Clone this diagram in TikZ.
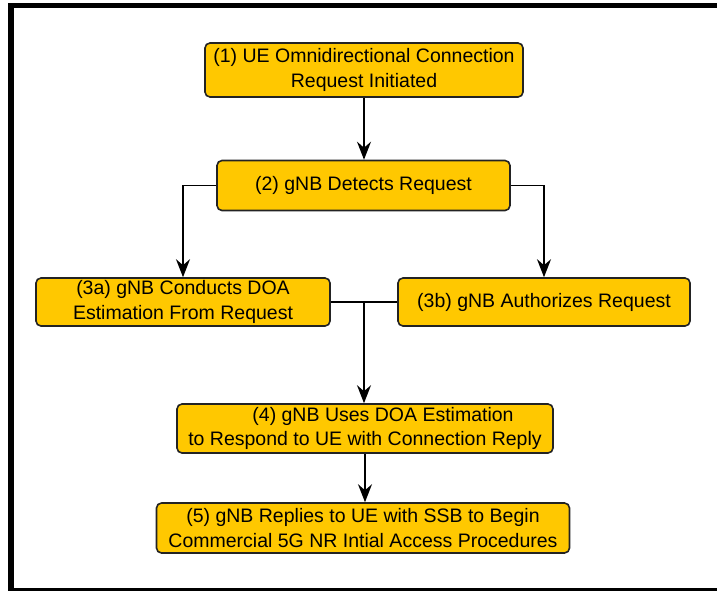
\documentclass[tikz,border=0pt]{standalone}
\usepackage{fontspec}
\setmainfont{Liberation Sans}
\usetikzlibrary{arrows.meta}
\definecolor{boxfill}{RGB}{255,200,0}
\definecolor{boxline}{RGB}{35,35,35}
\tikzset{
  stepbox/.style={draw=boxline, line width=1.6pt, fill=boxfill, rounded corners=5pt,
    inner sep=0pt, align=center, font=\fontsize{19.5}{24.5}\selectfont},
  flow/.style={draw=black, line width=1.5pt},
  flowarrow/.style={flow, -{Stealth[length=18pt,width=14pt,inset=6pt]}}
}
\begin{document}
\begin{tikzpicture}[x=1pt,y=-1pt]
  \useasboundingbox (0,0) rectangle (717,590);
  \clip (0,0) rectangle (717,590);
  \fill[white] (0,0) rectangle (717,590);
  % outer frame
  \draw[black, line width=5.3pt] (11,5.2) rectangle (740,591);

  \node[stepbox, minimum width=318pt, minimum height=54pt] (b1) at (364,70)
    {(1) UE Omnidirectional Connection\\Request Initiated};
  \node[stepbox, minimum width=293pt, minimum height=50pt] (b2) at (363.5,185.5)
    {(2) gNB Detects Request};
  \node[stepbox, minimum width=294pt, minimum height=48pt] (b3a) at (183,302)
    {(3a) gNB Conducts DOA\\Estimation From Request};
  \node[stepbox, minimum width=292pt, minimum height=48pt] (b3b) at (544,302)
    {(3b) gNB Authorizes Request};
  \node[stepbox, minimum width=376pt, minimum height=49pt] (b4) at (365,428.5)
    {\hspace*{36pt}(4) gNB Uses DOA Estimation\\to Respond to UE with Connection Reply};
  \node[stepbox, minimum width=413pt, minimum height=50pt] (b5) at (363,528)
    {(5) gNB Replies to UE with SSB to Begin\\Commercial 5G NR Intial Access Procedures};

  \coordinate (j) at (364,302);

  \draw[flowarrow] (b1.south) -- (b1.south |- b2.north);
  \draw[flowarrow] (b2.west) -| (b3a.north);
  \draw[flowarrow] (b2.east) -| (b3b.north);
  \draw[flow] (b3a.east) -- (b3b.west);
  \draw[flowarrow] (j) -- (j |- b4.north);
  \draw[flowarrow] (b4.south) -- (b4.south |- b5.north);
\end{tikzpicture}
\end{document}
